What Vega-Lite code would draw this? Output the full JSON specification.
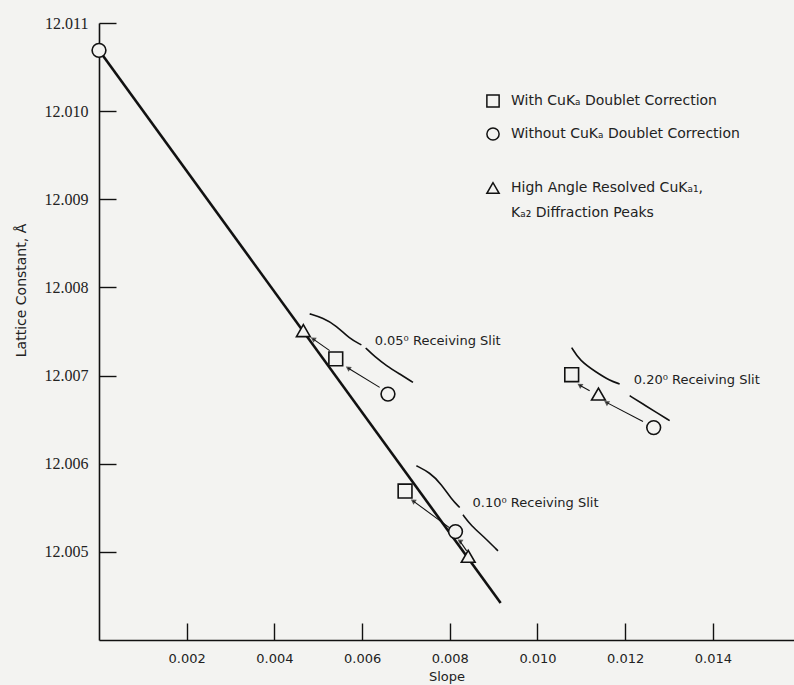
{
  "$schema": "https://vega.github.io/schema/vega-lite/v6.json",
  "width": 695,
  "height": 617,
  "autosize": {"type": "none"},
  "padding": {"left": 99, "top": 23, "right": 0, "bottom": 45},
  "background": "#f3f3f1",
  "config": {
    "view": {"stroke": null},
    "style": {"guide-label": {"lineHeight": 25}},
    "axis": {
      "grid": false,
      "domainColor": "#111",
      "domainWidth": 1.6,
      "tickColor": "#111",
      "tickWidth": 1.4,
      "labelColor": "#222",
      "titleColor": "#222",
      "titleFontWeight": "normal"
    }
  },
  "resolve": {"scale": {"shape": "independent"}, "legend": {"shape": "independent"}},
  "datasets": {
    "points": [
      {"method": "With CuKₐ Doublet Correction", "slope": 0.0054, "lattice": 12.00719},
      {"method": "With CuKₐ Doublet Correction", "slope": 0.00698, "lattice": 12.00569},
      {"method": "With CuKₐ Doublet Correction", "slope": 0.01078, "lattice": 12.00701},
      {"method": "Without CuKₐ Doublet Correction", "slope": 0.0, "lattice": 12.01069},
      {"method": "Without CuKₐ Doublet Correction", "slope": 0.00659, "lattice": 12.00679},
      {"method": "Without CuKₐ Doublet Correction", "slope": 0.00813, "lattice": 12.00523},
      {"method": "Without CuKₐ Doublet Correction", "slope": 0.01265, "lattice": 12.00641},
      {"method": "High Angle Resolved CuKₐ₁, Kₐ₂ Diffraction Peaks", "slope": 0.00466, "lattice": 12.00751},
      {"method": "High Angle Resolved CuKₐ₁, Kₐ₂ Diffraction Peaks", "slope": 0.00842, "lattice": 12.00495},
      {"method": "High Angle Resolved CuKₐ₁, Kₐ₂ Diffraction Peaks", "slope": 0.01139, "lattice": 12.00679}
    ],
    "fit": [
      {"slope": 0.0, "lattice": 12.01069},
      {"slope": 0.00916, "lattice": 12.00442}
    ],
    "arrows": [
      {"slit": "0.05", "slope": 0.006401, "lattice": 12.006866, "slope2": 0.005678, "lattice2": 12.007086},
      {"slit": "0.05", "slope": 0.005261, "lattice": 12.007283, "slope2": 0.00488, "lattice2": 12.007416},
      {"slit": "0.10", "slope": 0.008036, "lattice": 12.005258, "slope2": 0.007161, "lattice2": 12.005579},
      {"slit": "0.10", "slope": 0.008385, "lattice": 12.005011, "slope2": 0.008226, "lattice2": 12.005125},
      {"slit": "0.20", "slope": 0.012406, "lattice": 12.00648, "slope2": 0.011571, "lattice2": 12.006696},
      {"slit": "0.20", "slope": 0.01119, "lattice": 12.006829, "slope2": 0.010962, "lattice2": 12.006891}
    ],
    "braces": [
      {"piece": "0.05 upper", "order": 1, "slope": 0.004805, "lattice": 12.0077},
      {"piece": "0.05 upper", "order": 2, "slope": 0.005108, "lattice": 12.007654},
      {"piece": "0.05 upper", "order": 3, "slope": 0.005414, "lattice": 12.007567},
      {"piece": "0.05 upper", "order": 4, "slope": 0.005717, "lattice": 12.007416},
      {"piece": "0.05 upper", "order": 5, "slope": 0.005984, "lattice": 12.007348},
      {"piece": "0.05 lower", "order": 1, "slope": 0.006082, "lattice": 12.007313},
      {"piece": "0.05 lower", "order": 2, "slope": 0.006287, "lattice": 12.007215},
      {"piece": "0.05 lower", "order": 3, "slope": 0.006554, "lattice": 12.007112},
      {"piece": "0.05 lower", "order": 4, "slope": 0.006857, "lattice": 12.007018},
      {"piece": "0.05 lower", "order": 5, "slope": 0.007161, "lattice": 12.006923},
      {"piece": "0.10 upper", "order": 1, "slope": 0.007238, "lattice": 12.005977},
      {"piece": "0.10 upper", "order": 2, "slope": 0.007542, "lattice": 12.005901},
      {"piece": "0.10 upper", "order": 3, "slope": 0.007808, "lattice": 12.005769},
      {"piece": "0.10 upper", "order": 4, "slope": 0.008036, "lattice": 12.005599},
      {"piece": "0.10 upper", "order": 5, "slope": 0.008226, "lattice": 12.005503},
      {"piece": "0.10 lower", "order": 1, "slope": 0.008301, "lattice": 12.00542},
      {"piece": "0.10 lower", "order": 2, "slope": 0.008492, "lattice": 12.005295},
      {"piece": "0.10 lower", "order": 3, "slope": 0.008757, "lattice": 12.005181},
      {"piece": "0.10 lower", "order": 4, "slope": 0.009099, "lattice": 12.005011},
      {"piece": "0.20 upper", "order": 1, "slope": 0.01078, "lattice": 12.007317},
      {"piece": "0.20 upper", "order": 2, "slope": 0.010962, "lattice": 12.00717},
      {"piece": "0.20 upper", "order": 3, "slope": 0.011343, "lattice": 12.007036},
      {"piece": "0.20 upper", "order": 4, "slope": 0.011646, "lattice": 12.006944},
      {"piece": "0.20 upper", "order": 5, "slope": 0.011874, "lattice": 12.006905},
      {"piece": "0.20 lower", "order": 1, "slope": 0.012102, "lattice": 12.006772},
      {"piece": "0.20 lower", "order": 2, "slope": 0.012406, "lattice": 12.006677},
      {"piece": "0.20 lower", "order": 3, "slope": 0.012711, "lattice": 12.006582},
      {"piece": "0.20 lower", "order": 4, "slope": 0.013014, "lattice": 12.006489}
    ],
    "slits": [
      {"label": "0.05⁰ Receiving Slit", "slope": 0.006287, "lattice": 12.007396},
      {"label": "0.10⁰ Receiving Slit", "slope": 0.008518, "lattice": 12.005557},
      {"label": "0.20⁰ Receiving Slit", "slope": 0.012195, "lattice": 12.006953}
    ]
  },
  "encoding": {
    "x": {
      "field": "slope",
      "type": "quantitative",
      "scale": {"domain": [0, 0.01585], "nice": false, "zero": false},
      "axis": {
        "title": "Slope",
        "values": [0.002, 0.004, 0.006, 0.008, 0.01, 0.012, 0.014],
        "format": ".3f",
        "tickSize": -17,
        "labelPadding": 29,
        "labelFont": "DejaVu Sans",
        "labelFontSize": 13,
        "titleFont": "DejaVu Sans",
        "titleFontSize": 13,
        "titlePadding": 5
      }
    },
    "y": {
      "field": "lattice",
      "type": "quantitative",
      "scale": {"domain": [12.004, 12.011], "nice": false, "zero": false},
      "axis": {
        "title": "Lattice Constant, Å",
        "values": [12.005, 12.006, 12.007, 12.008, 12.009, 12.01, 12.011],
        "format": ".3f",
        "tickSize": -17,
        "labelPadding": 28,
        "labelFont": "Liberation Serif",
        "labelFontSize": 16,
        "titleFont": "DejaVu Sans",
        "titleFontSize": 14,
        "titleX": -71,
        "titleY": 267
      }
    }
  },
  "layer": [
    {
      "data": {"values": [{"edge": "top"}]},
      "mark": {"type": "rule", "color": "#111", "strokeWidth": 1.6},
      "encoding": {
        "x": {"datum": 0},
        "x2": {"datum": 0.01585},
        "y": {"datum": 12.011}
      }
    },
    {
      "data": {"name": "fit"},
      "mark": {"type": "line", "color": "#111", "strokeWidth": 2.6}
    },
    {
      "data": {"name": "braces"},
      "mark": {"type": "line", "color": "#111", "strokeWidth": 1.6, "interpolate": "basis"},
      "encoding": {
        "detail": {"field": "piece"},
        "order": {"field": "order"}
      }
    },
    {
      "data": {"name": "arrows"},
      "mark": {"type": "rule", "color": "#111", "strokeWidth": 1.1},
      "encoding": {
        "x2": {"field": "slope2"},
        "y2": {"field": "lattice2"}
      }
    },
    {
      "data": {"name": "arrows"},
      "mark": {"type": "point", "shape": "triangle-left", "filled": true, "color": "#111", "size": 35, "angle": 33},
      "encoding": {
        "x": {"field": "slope2", "type": "quantitative", "title": "Slope"},
        "y": {"field": "lattice2", "type": "quantitative", "title": "Lattice Constant, Å"}
      }
    },
    {
      "data": {"name": "points"},
      "mark": {"type": "point", "filled": true, "color": "#f3f3f1", "size": 190, "opacity": 1},
      "encoding": {
        "shape": {
          "field": "method",
          "type": "nominal",
          "scale": {
            "domain": ["With CuKₐ Doublet Correction", "Without CuKₐ Doublet Correction", "High Angle Resolved CuKₐ₁, Kₐ₂ Diffraction Peaks"],
            "range": ["square", "circle", "triangle-up"]
          },
          "legend": null
        }
      }
    },
    {
      "data": {"name": "points"},
      "mark": {"type": "point", "filled": false, "color": "#111", "strokeWidth": 1.6, "size": 190, "opacity": 1},
      "encoding": {
        "shape": {
          "field": "method",
          "type": "nominal",
          "scale": {
            "domain": ["With CuKₐ Doublet Correction", "Without CuKₐ Doublet Correction", "High Angle Resolved CuKₐ₁, Kₐ₂ Diffraction Peaks"],
            "range": ["square", "circle", "triangle-up"]
          },
          "legend": {
            "title": null,
            "orient": "none",
            "legendX": 387,
            "legendY": 71,
            "padding": 0,
            "rowPadding": 13,
            "symbolSize": 150,
            "symbolStrokeWidth": 1.5,
            "labelFont": "DejaVu Sans",
            "labelFontSize": 14,
            "labelColor": "#222",
            "labelLimit": 400,
            "labelOffset": 11,
            "labelExpr": "datum.label == 'Without CuKₐ Doublet Correction' ? [datum.label, ''] : datum.label == 'With CuKₐ Doublet Correction' ? datum.label : ['High Angle Resolved CuKₐ₁,', 'Kₐ₂ Diffraction Peaks']"
          }
        }
      }
    },
    {
      "data": {"name": "slits"},
      "mark": {"type": "text", "align": "left", "baseline": "middle", "font": "DejaVu Sans", "fontSize": 13, "color": "#222"},
      "encoding": {"text": {"field": "label"}}
    }
  ]
}
